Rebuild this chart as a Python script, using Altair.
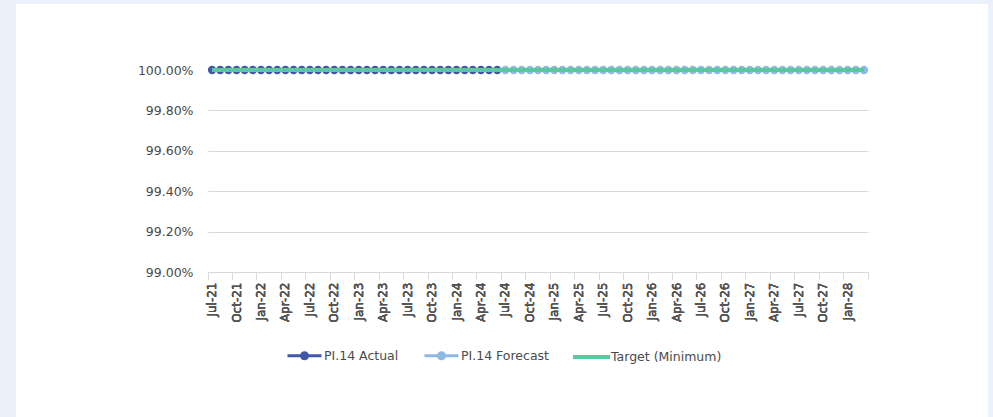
import altair as alt
import pandas as pd

# Monthly categories on the x axis
months = [
    "Jul-21", "Aug-21", "Sep-21", "Oct-21", "Nov-21", "Dec-21",
    "Jan-22", "Feb-22", "Mar-22", "Apr-22", "May-22", "Jun-22",
    "Jul-22", "Aug-22", "Sep-22", "Oct-22", "Nov-22", "Dec-22",
    "Jan-23", "Feb-23", "Mar-23", "Apr-23", "May-23", "Jun-23",
    "Jul-23", "Aug-23", "Sep-23", "Oct-23", "Nov-23", "Dec-23",
    "Jan-24", "Feb-24", "Mar-24", "Apr-24", "May-24", "Jun-24",
    "Jul-24", "Aug-24", "Sep-24", "Oct-24", "Nov-24", "Dec-24",
    "Jan-25", "Feb-25", "Mar-25", "Apr-25", "May-25", "Jun-25",
    "Jul-25", "Aug-25", "Sep-25", "Oct-25", "Nov-25", "Dec-25",
    "Jan-26", "Feb-26", "Mar-26", "Apr-26", "May-26", "Jun-26",
    "Jul-26", "Aug-26", "Sep-26", "Oct-26", "Nov-26", "Dec-26",
    "Jan-27", "Feb-27", "Mar-27", "Apr-27", "May-27", "Jun-27",
    "Jul-27", "Aug-27", "Sep-27", "Oct-27", "Nov-27", "Dec-27",
    "Jan-28", "Feb-28", "Mar-28",
]

# PI.14 actuals, Jul-21 to Jun-24
actual = [
    1.000, 1.000, 1.000, 1.000, 1.000, 1.000,
    1.000, 1.000, 1.000, 1.000, 1.000, 1.000,
    1.000, 1.000, 1.000, 1.000, 1.000, 1.000,
    1.000, 1.000, 1.000, 1.000, 1.000, 1.000,
    1.000, 1.000, 1.000, 1.000, 1.000, 1.000,
    1.000, 1.000, 1.000, 1.000, 1.000, 1.000,
]

# PI.14 forecast, Jul-24 to Mar-28
forecast = [
    1.000, 1.000, 1.000, 1.000, 1.000, 1.000,
    1.000, 1.000, 1.000, 1.000, 1.000, 1.000,
    1.000, 1.000, 1.000, 1.000, 1.000, 1.000,
    1.000, 1.000, 1.000, 1.000, 1.000, 1.000,
    1.000, 1.000, 1.000, 1.000, 1.000, 1.000,
    1.000, 1.000, 1.000, 1.000, 1.000, 1.000,
    1.000, 1.000, 1.000, 1.000, 1.000, 1.000,
    1.000, 1.000, 1.000,
]

# Minimum target across the whole period
target = [
    1.000, 1.000, 1.000, 1.000, 1.000, 1.000,
    1.000, 1.000, 1.000, 1.000, 1.000, 1.000,
    1.000, 1.000, 1.000, 1.000, 1.000, 1.000,
    1.000, 1.000, 1.000, 1.000, 1.000, 1.000,
    1.000, 1.000, 1.000, 1.000, 1.000, 1.000,
    1.000, 1.000, 1.000, 1.000, 1.000, 1.000,
    1.000, 1.000, 1.000, 1.000, 1.000, 1.000,
    1.000, 1.000, 1.000, 1.000, 1.000, 1.000,
    1.000, 1.000, 1.000, 1.000, 1.000, 1.000,
    1.000, 1.000, 1.000, 1.000, 1.000, 1.000,
    1.000, 1.000, 1.000, 1.000, 1.000, 1.000,
    1.000, 1.000, 1.000, 1.000, 1.000, 1.000,
    1.000, 1.000, 1.000, 1.000, 1.000, 1.000,
    1.000, 1.000, 1.000,
]

y_ticks = [0.99, 0.992, 0.994, 0.996, 0.998, 1.0]

series_names = ["PI.14 Actual", "PI.14 Forecast", "Target (Minimum)"]
series_colors = ["#4058A8", "#8DB9E2", "#5CC8A0"]
# legend glyphs: line with a dot, line with a dot, plain thick line
series_glyphs = [
    "M-1,0H1M0.176,0A0.176,0.176,0,1,1,-0.176,0A0.176,0.176,0,1,1,0.176,0Z",
    "M-1,0H1M0.176,0A0.176,0.176,0,1,1,-0.176,0A0.176,0.176,0,1,1,0.176,0Z",
    "M-1,-0.03H1V0.03H-1Z",
]

rows = []
for m, v in zip(months[: len(actual)], actual):
    rows.append({"month": m, "series": series_names[0], "value": v})
for m, v in zip(months[len(actual):], forecast):
    rows.append({"month": m, "series": series_names[1], "value": v})
for m, v in zip(months, target):
    rows.append({"month": m, "series": series_names[2], "value": v})
df = pd.DataFrame(rows)

FONT = "DejaVu Sans"
TEXT = "#4A4A4A"
GRID = "#D9D9D9"
FRAME = "#EBF1FA"

month_scale = alt.Scale(type="band", domain=months, paddingInner=0, paddingOuter=0)

x_enc = alt.X(
    "month:N",
    scale=month_scale,
    axis=alt.Axis(
        title=None,
        orient="bottom",
        values=months[::3],
        bandPosition=0,
        labelAngle=270,
        labelFont=FONT,
        labelFontSize=12,
        labelColor="#555555",
        labelPadding=3,
        labelOverlap=False,
        tickSize=7,
        tickColor=GRID,
        domainColor=GRID,
        grid=False,
    ),
)
# closing tick at the far end of the category axis
x_end = alt.X(
    "month:N",
    scale=month_scale,
    axis=alt.Axis(
        title=None,
        orient="bottom",
        values=months[-1:],
        bandPosition=1,
        labels=False,
        domain=False,
        tickSize=7,
        tickColor=GRID,
        grid=False,
    ),
)
y_enc = alt.Y(
    "value:Q",
    scale=alt.Scale(domain=[0.99, 1.0], nice=False, zero=False),
    axis=alt.Axis(
        title=None,
        values=y_ticks,
        format=".2%",
        labelFont=FONT,
        labelFontSize=12.5,
        labelColor=TEXT,
        labelPadding=15,
        ticks=False,
        tickSize=0,
        domain=False,
        grid=True,
        gridColor=GRID,
    ),
)

base = alt.Chart(df)

# light-blue frame strips around the white card
frame_src = pd.DataFrame({"frame": [0]})
frame_left = alt.Chart(frame_src).mark_rect(color=FRAME).encode(
    x=alt.value(-208), x2=alt.value(-192), y=alt.value(-70), y2=alt.value(347)
)
frame_top = alt.Chart(frame_src).mark_rect(color=FRAME).encode(
    x=alt.value(-208), x2=alt.value(785), y=alt.value(-70), y2=alt.value(-66)
)
frame_right = alt.Chart(frame_src).mark_rect(color=FRAME).encode(
    x=alt.value(780), x2=alt.value(785), y=alt.value(-70), y2=alt.value(347)
)


def only(name):
    return alt.datum.series == name


actual_line = base.transform_filter(only(series_names[0])).mark_line(
    color=series_colors[0], strokeWidth=2.5
).encode(x=x_enc, y=y_enc)
actual_pts = base.transform_filter(only(series_names[0])).mark_point(
    filled=True, color=series_colors[0], size=70, opacity=1
).encode(x=x_enc, y=y_enc)
forecast_line = base.transform_filter(only(series_names[1])).mark_line(
    color=series_colors[1], strokeWidth=2.5
).encode(x=x_enc, y=y_enc)
forecast_pts = base.transform_filter(only(series_names[1])).mark_point(
    filled=True, color=series_colors[1], size=70, opacity=1
).encode(x=x_enc, y=y_enc)
target_line = base.transform_filter(only(series_names[2])).mark_line(
    color=series_colors[2], strokeWidth=4
).encode(x=x_enc, y=y_enc)

legend_def = alt.Legend(
    title=None,
    orient="none",
    legendX=78,
    legendY=267,
    direction="horizontal",
    columns=3,
    symbolSize=1156,
    symbolStrokeWidth=3,
    symbolOpacity=1,
    labelOffset=1,
    columnPadding=19,
    labelFont=FONT,
    labelFontSize=12.5,
    labelColor=TEXT,
)
legend_layer = base.transform_filter("false").mark_point(
    filled=True, opacity=1, strokeWidth=3
).encode(
    x=x_end,
    color=alt.Color(
        "series:N",
        scale=alt.Scale(domain=series_names, range=series_colors),
        legend=legend_def,
    ),
    stroke=alt.Stroke(
        "series:N",
        scale=alt.Scale(domain=series_names, range=series_colors),
        legend=legend_def,
    ),
    shape=alt.Shape(
        "series:N",
        scale=alt.Scale(domain=series_names, range=series_glyphs),
        legend=legend_def,
    ),
)

chart = (
    alt.layer(
        frame_left, frame_top, frame_right,
        actual_line, actual_pts, forecast_line, forecast_pts, target_line, legend_layer,
    )
    .resolve_axis(x="independent")
    .properties(
        width=660,
        height=202,
        autosize=alt.AutoSizeParams(type="none"),
        padding={"left": 208, "right": 125, "top": 70, "bottom": 145},
        background="white",
    )
    .configure(font=FONT)
    .configure_view(stroke=None)
)

chart.save("out.html", embed_options={"renderer": "svg", "actions": False})
